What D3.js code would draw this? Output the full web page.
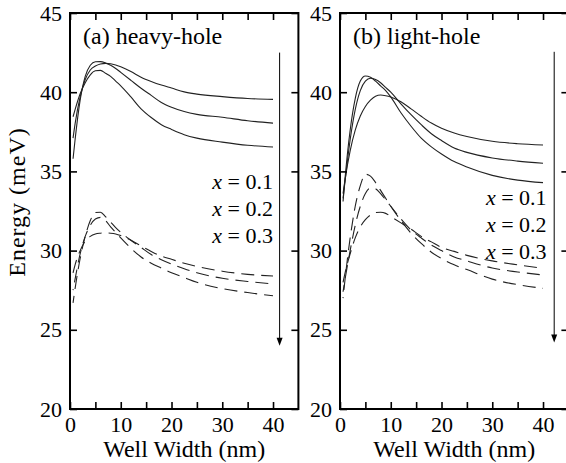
<!DOCTYPE html>
<html>
<head>
<meta charset="utf-8">
<script src="https://cdn.jsdelivr.net/npm/d3@7"></script>
<style>
  body { margin: 0; background: #fff; }
  svg text, svg tspan { font-family: 'Liberation Serif', 'Tinos', 'Times New Roman', serif !important; }
</style>
</head>
<body>
<script>
// exciton binding energy vs well width, two panels (heavy / light hole)

// well widths (nm) where the curves are sampled
var wellWidth = [0.6, 1, 2, 3, 4, 5, 6, 7, 8, 9, 10, 12, 14, 16, 18, 20, 22.5, 25, 30, 35, 40];

// (a) heavy-hole, solid
var hhSolid1 = [37.1, 38.0, 39.7, 40.8, 41.4, 41.65, 41.78, 41.82, 41.8, 41.72, 41.6, 41.3, 40.95, 40.68, 40.45, 40.26, 40.02, 39.88, 39.72, 39.6, 39.55];
var hhSolid2 = [35.8, 37.0, 39.5, 41.0, 41.7, 41.92, 41.93, 41.85, 41.7, 41.5, 41.25, 40.75, 40.25, 39.8, 39.35, 39.05, 38.78, 38.6, 38.42, 38.2, 38.05];
var hhSolid3 = [38.45, 38.9, 39.9, 40.6, 41.1, 41.35, 41.38, 41.2, 41.0, 40.7, 40.4, 39.7, 38.95, 38.4, 37.95, 37.65, 37.32, 37.1, 36.85, 36.65, 36.54];
// (a) heavy-hole, dashed
var hhDash1 = [28.6, 29.1, 30.0, 30.6, 30.9, 31.05, 31.1, 31.12, 31.1, 31.05, 30.95, 30.65, 30.3, 29.95, 29.65, 29.45, 29.2, 29.0, 28.7, 28.5, 28.4];
var hhDash2 = [26.7, 27.6, 29.5, 30.9, 31.9, 32.4, 32.42, 32.15, 31.8, 31.45, 31.15, 30.65, 30.2, 29.75, 29.42, 29.15, 28.85, 28.6, 28.25, 28.05, 27.9];
var hhDash3 = [27.5, 28.2, 29.8, 30.9, 31.6, 32.0, 32.1, 31.9, 31.5, 31.15, 30.8, 30.15, 29.6, 29.2, 28.9, 28.6, 28.3, 28.0, 27.6, 27.35, 27.15];

// (b) light-hole, solid
var lhSolid1 = [33.6, 34.5, 36.3, 37.6, 38.5, 39.1, 39.5, 39.75, 39.82, 39.78, 39.7, 39.4, 38.95, 38.48, 38.05, 37.72, 37.42, 37.2, 36.9, 36.75, 36.67];
var lhSolid2 = [33.3, 34.4, 37.0, 38.9, 40.1, 40.7, 40.88, 40.8, 40.6, 40.3, 40.0, 39.27, 38.58, 37.95, 37.38, 36.95, 36.48, 36.2, 35.85, 35.65, 35.51];
var lhSolid3 = [33.1, 34.6, 37.6, 39.6, 40.7, 41.02, 40.95, 40.7, 40.4, 40.1, 39.7, 38.7, 37.85, 37.1, 36.55, 36.1, 35.62, 35.28, 34.75, 34.45, 34.29];
// (b) light-hole, dashed
var lhDash1 = [28.0, 28.6, 29.8, 30.8, 31.5, 31.95, 32.25, 32.4, 32.42, 32.35, 32.15, 31.75, 31.35, 30.9, 30.55, 30.2, 29.95, 29.7, 29.35, 29.1, 28.88];
var lhDash2 = [27.4, 28.2, 30.0, 31.6, 32.8, 33.6, 33.95, 33.9, 33.6, 33.2, 32.8, 32.0, 31.3, 30.8, 30.35, 30.0, 29.6, 29.35, 28.9, 28.65, 28.46];
var lhDash3 = [27.0, 28.2, 30.8, 32.8, 34.1, 34.82, 34.7, 34.3, 33.8, 33.3, 32.8, 31.9, 31.1, 30.45, 29.9, 29.5, 29.1, 28.8, 28.2, 27.85, 27.62];

var compositions = ["0.1", "0.2", "0.3"];
var energyTicks = [20, 25, 30, 35, 40, 45];
var widthTicks = [0, 5, 10, 15, 20, 25, 30, 35, 40];
var widthLabels = [0, 10, 20, 30, 40];
var panelTitles = ["(a) heavy-hole", "(b) light-hole"];

var W = 566, H = 463;
var top_y = 13, bottom_y = 409;
var panelW = 228.4;

var svg = d3.select("body").append("svg")
  .attr("width", W)
  .attr("height", H);

var y = d3.scaleLinear().domain([20, 45]).range([bottom_y, top_y]);

var panels = [
  { left: 70, title: panelTitles[0], solid: [hhSolid1, hhSolid2, hhSolid3], dashed: [hhDash1, hhDash2, hhDash3],
    arrowX: 41.3, arrowTop: 42.5, arrowBot: 24.0, labX: 40, labY: [189, 216, 243] },
  { left: 340, title: panelTitles[1], solid: [lhSolid1, lhSolid2, lhSolid3], dashed: [lhDash1, lhDash2, lhDash3],
    arrowX: 42.2, arrowTop: 42.55, arrowBot: 24.2, labX: 40.7, labY: [205, 232, 259] }
];

panels.forEach(function(p) {
  var x = d3.scaleLinear().domain([0, 45]).range([p.left, p.left + panelW]);
  var g = svg.append("g");

  var line = d3.line()
    .x(function(d) { return x(d[0]); })
    .y(function(d) { return y(d[1]); })
    .curve(d3.curveMonotoneX);

  p.solid.forEach(function(vals) {
    g.append("path")
      .attr("d", line(d3.zip(wellWidth, vals)))
      .attr("fill", "none")
      .attr("stroke", "#222")
      .attr("stroke-width", 1.1);
  });
  p.dashed.forEach(function(vals, i) {
    g.append("path")
      .attr("d", line(d3.zip(wellWidth, vals)))
      .attr("fill", "none")
      .attr("stroke", "#222")
      .attr("stroke-width", 1.1)
      .attr("stroke-dasharray", "13,7")
      .attr("stroke-dashoffset", i * 6);
  });

  // axes, ticks pointing inward on all four sides
  var bottomAxis = g.append("g")
    .attr("transform", "translate(0," + y(20) + ")")
    .call(d3.axisBottom(x).tickValues(widthTicks).tickSize(-7).tickPadding(7)
      .tickFormat(function(d) { return widthLabels.indexOf(d) >= 0 ? d : ""; }));
  var leftAxis = g.append("g")
    .attr("transform", "translate(" + x(0) + ",0)")
    .call(d3.axisLeft(y).tickValues(energyTicks).tickSize(-7).tickPadding(8));
  var topAxis = g.append("g")
    .attr("transform", "translate(0," + y(45) + ")")
    .call(d3.axisTop(x).tickValues(widthTicks).tickSize(-7).tickFormat(""));
  var rightAxis = g.append("g")
    .attr("transform", "translate(" + x(45) + ",0)")
    .call(d3.axisRight(y).tickValues(energyTicks).tickSize(-7).tickFormat(""));

  [bottomAxis, leftAxis, topAxis, rightAxis].forEach(function(a) {
    a.attr("font-family", "Liberation Serif");
    a.select(".domain").remove();
    a.selectAll(".tick line").attr("stroke", "#000").attr("stroke-width", 1.6);
    a.selectAll("text").filter(function() { return this.textContent === ""; }).remove();
    a.selectAll("text")
      .attr("font-size", 22)
      .attr("fill", "#000");
  });

  g.append("rect")
    .attr("x", x(0)).attr("y", y(45))
    .attr("width", x(45) - x(0)).attr("height", y(20) - y(45))
    .attr("fill", "none").attr("stroke", "#000").attr("stroke-width", 2);

  g.append("text")
    .attr("x", x(0) + 13)
    .attr("y", 44)
    .attr("font-size", 24)
    .text(p.title);

  g.append("text")
    .attr("x", (x(0) + x(45)) / 2)
    .attr("y", 457)
    .attr("text-anchor", "middle")
    .attr("font-size", 24)
    .text("Well Width (nm)");

  // composition labels
  compositions.forEach(function(c, i) {
    var t = g.append("text")
      .attr("x", x(p.labX))
      .attr("y", p.labY[i])
      .attr("text-anchor", "end")
      .attr("font-size", 22);
    t.append("tspan").attr("font-style", "italic").text("x");
    t.append("tspan").text(" = " + c);
  });

  // arrow x: 0.1 -> 0.3
  var ax = x(p.arrowX), ay0 = y(p.arrowTop), ay1 = y(p.arrowBot);
  g.append("line")
    .attr("x1", ax).attr("x2", ax)
    .attr("y1", ay0).attr("y2", ay1 - 6)
    .attr("stroke", "#000").attr("stroke-width", 1);
  g.append("path")
    .attr("d", "M" + (ax - 3) + "," + (ay1 - 8) + "L" + (ax + 3) + "," + (ay1 - 8) + "L" + ax + "," + ay1 + "Z")
    .attr("fill", "#000");
});

svg.append("text")
  .attr("transform", "translate(25," + 202 + ") rotate(-90)")
  .attr("text-anchor", "middle")
  .attr("font-size", 24)
  .attr("letter-spacing", 1)
  .text("Energy (meV)");

svg.selectAll("text")
  .attr("font-family", "Liberation Serif")
  .style("font-family", "'Liberation Serif'");
</script>
</body>
</html>
